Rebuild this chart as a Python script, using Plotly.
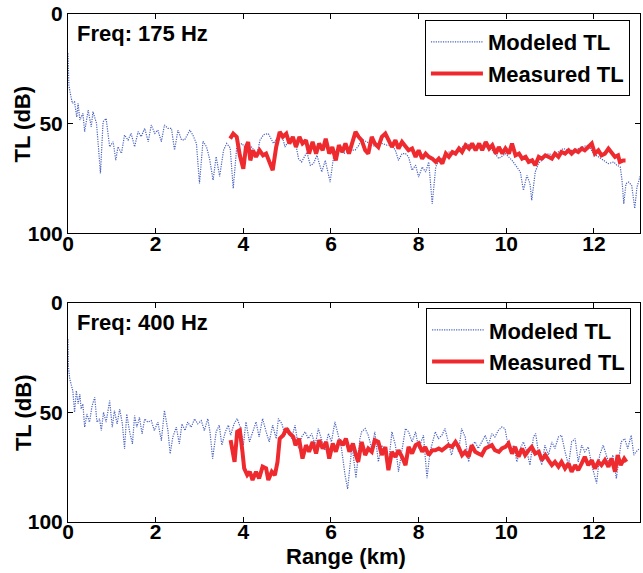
import plotly.graph_objects as go
from plotly.subplots import make_subplots

# ---------------- 175 Hz ----------------
model175_r = [0.0, 0.02, 0.05, 0.1, 0.15, 0.2, 0.23, 0.27, 0.34, 0.38, 0.46, 0.53, 0.57, 0.65, 0.70, 0.74,
              0.8, 0.87, 0.95, 1.03, 1.09, 1.14, 1.22, 1.29, 1.37, 1.44, 1.52, 1.6, 1.67, 1.75, 1.83, 1.9,
              1.98, 2.05, 2.13, 2.2, 2.28, 2.36, 2.43, 2.51, 2.59, 2.66, 2.78, 2.85, 2.93, 3.0, 3.08, 3.16,
              3.23, 3.31, 3.38, 3.46, 3.55, 3.62, 3.70, 3.77, 3.85, 3.97, 4.08, 4.19, 4.31, 4.38, 4.46, 4.57,
              4.69, 4.76, 4.88, 4.95, 5.07, 5.18, 5.26, 5.33, 5.45, 5.53, 5.6, 5.68, 5.79, 5.87, 5.98, 6.06,
              6.17, 6.29, 6.44, 6.55, 6.63, 6.7, 6.82, 6.93, 7.05, 7.16, 7.28, 7.39, 7.47, 7.54, 7.62, 7.7,
              7.77, 7.85, 7.93, 8.0, 8.08, 8.16, 8.23, 8.31, 8.39, 8.46, 8.58, 8.69, 8.84, 8.99, 9.11, 9.22,
              9.38, 9.53, 9.68, 9.83, 9.98, 10.13, 10.24, 10.32, 10.39, 10.47, 10.54, 10.58, 10.66, 10.73, 10.85,
              10.96, 11.07, 11.19, 11.3, 11.42, 11.57, 11.72, 11.87, 11.99, 12.1, 12.22, 12.33, 12.45, 12.52,
              12.6, 12.64, 12.68, 12.73, 12.79, 12.86, 12.93, 12.98, 13.06]
model175_tl = [17.9, 32.4, 36.0, 40.7, 40.0, 47.0, 40.7, 48.3, 45.3, 53.6, 43.8, 51.4, 44.5, 49.8, 62.0, 72.6,
               49.1, 47.6, 60.5, 58.2, 66.6, 60.5, 63.5, 55.2, 57.4, 54.4, 60.5, 53.6, 55.9, 52.1, 58.2, 50.6,
               54.4, 52.9, 58.2, 50.6, 52.1, 52.1, 62.0, 52.9, 57.4, 57.4, 52.9, 55.2, 59.0, 77.2, 58.0, 60.5,
               66.0, 75.7, 65.0, 74.0, 62.0, 59.0, 61.0, 79.5, 60.6, 59.0, 62.0, 60.6, 64.0, 57.5, 55.0, 54.5,
               59.0, 56.7, 55.0, 60.6, 56.7, 57.5, 66.0, 67.4, 63.0, 69.0, 68.2, 64.4, 72.0, 66.7, 76.6, 65.0,
               60.6, 63.6, 62.0, 62.0, 60.0, 57.0, 58.3, 59.8, 60.6, 59.0, 59.8, 59.8, 62.1, 66.7, 63.6, 63.6,
               65.1, 71.2, 68.9, 74.3, 69.7, 72.0, 67.4, 86.5, 69.7, 66.7, 65.1, 62.9, 63.6, 60.6, 59.0, 61.3,
               60.6, 60.6, 62.1, 65.9, 63.6, 66.7, 69.7, 72.0, 80.4, 73.5, 77.3, 84.9, 72.0, 68.2, 65.9,
               63.6, 64.4, 62.9, 61.3, 62.1, 62.1, 60.6, 59.8, 63.6, 65.1, 66.7, 68.2, 67.4, 68.9,
               69.7, 75.8, 86.5, 77.3, 76.6, 78.1, 88.6, 78.9, 73.5]

meas175_r = [3.70, 3.77, 3.85, 3.92, 4.0, 4.06, 4.11, 4.16, 4.22, 4.29, 4.37, 4.45, 4.52, 4.6, 4.67, 4.75,
             4.83, 4.9, 4.98, 5.05, 5.13, 5.2, 5.28, 5.35, 5.43, 5.5, 5.58, 5.66, 5.73, 5.81, 5.88, 5.96,
             6.03, 6.11, 6.18, 6.26, 6.33, 6.41, 6.49, 6.56, 6.63, 6.7, 6.78, 6.85, 6.93, 7.0, 7.08, 7.16,
             7.24, 7.31, 7.39, 7.47, 7.54, 7.62, 7.7, 7.77, 7.85, 7.93, 8.0, 8.08, 8.16, 8.23, 8.31, 8.39,
             8.46, 8.54, 8.62, 8.69, 8.77, 8.84, 8.92, 8.99, 9.07, 9.15, 9.22, 9.3, 9.38, 9.45, 9.53, 9.61,
             9.68, 9.76, 9.83, 9.91, 9.98, 10.06, 10.13, 10.21, 10.29, 10.36, 10.44, 10.51, 10.59, 10.66,
             10.74, 10.81, 10.89, 10.96, 11.04, 11.11, 11.19, 11.26, 11.34, 11.42, 11.49, 11.57, 11.64,
             11.72, 11.79, 11.87, 11.95, 12.02, 12.1, 12.17, 12.25, 12.33, 12.4, 12.48, 12.55, 12.59,
             12.67, 12.72]
meas175_tl = [56.8, 54.5, 56.0, 64.4, 70.5, 60.6, 58.3, 66.7, 62.1, 65.1, 62.1, 64.4, 63.6, 68.2, 71.2, 60.6,
              53.7, 56.0, 54.5, 59.0, 56.0, 60.6, 56.0, 59.0, 57.5, 63.6, 58.3, 63.6, 59.0, 62.1, 56.8, 63.6,
              60.6, 66.7, 59.8, 62.9, 59.0, 63.6, 58.3, 53.7, 56.0, 57.5, 62.1, 63.6, 56.0, 59.0, 60.6, 56.0,
              54.5, 57.5, 60.6, 57.5, 61.3, 58.3, 60.6, 62.1, 61.3, 65.1, 62.1, 65.9, 63.6, 65.1, 65.9, 67.4,
              65.9, 68.2, 63.6, 65.1, 62.9, 63.6, 61.3, 62.9, 59.8, 61.3, 59.0, 62.1, 59.0, 62.1, 58.3, 61.3,
              59.8, 63.6, 60.6, 63.6, 61.3, 63.6, 59.0, 64.4, 63.6, 65.9, 65.1, 67.4, 66.7, 68.9,
              65.1, 65.9, 64.4, 65.1, 65.9, 63.6, 65.1, 62.9, 63.6, 62.1, 63.6, 62.1, 62.9,
              61.3, 62.1, 60.6, 59.0, 63.6, 62.1, 64.4, 63.6, 61.3, 62.9, 65.1, 64.4, 67.4,
              66.7, 66.7]

# ---------------- 400 Hz ----------------
model400_r = [0.0, 0.01, 0.04, 0.08, 0.11, 0.15, 0.19, 0.23, 0.27, 0.3, 0.34, 0.38, 0.43, 0.49, 0.55, 0.61,
              0.66, 0.72, 0.76, 0.81, 0.87, 0.95, 1.01, 1.06, 1.12, 1.18, 1.24, 1.29, 1.34, 1.4, 1.47, 1.52,
              1.57, 1.63, 1.69, 1.75, 1.82, 1.9, 1.97, 2.05, 2.13, 2.2, 2.28, 2.33, 2.39, 2.47, 2.54, 2.6,
              2.67, 2.73, 2.81, 2.89, 2.96, 3.04, 3.11, 3.19, 3.24, 3.3, 3.38, 3.45, 3.51, 3.59, 3.66, 3.71,
              3.79, 3.86, 3.94, 4.0, 4.06, 4.14, 4.21, 4.29, 4.36, 4.44, 4.52, 4.59, 4.67, 4.75, 4.8, 4.88,
              4.95, 5.03, 5.1, 5.18, 5.26, 5.33, 5.41, 5.48, 5.56, 5.64, 5.71, 5.79, 5.86, 5.94, 6.01, 6.09,
              6.17, 6.24, 6.32, 6.38, 6.48, 6.57, 6.66, 6.7, 6.78, 6.85, 6.93, 7.0, 7.08, 7.16, 7.24, 7.31,
              7.39, 7.47, 7.54, 7.62, 7.7, 7.77, 7.85, 7.93, 8.0, 8.11, 8.19, 8.26, 8.38, 8.45, 8.53, 8.6,
              8.68, 8.75, 8.83, 8.91, 8.98, 9.06, 9.14, 9.21, 9.29, 9.36, 9.44, 9.52, 9.59, 9.67, 9.74, 9.82,
              9.9, 9.97, 10.01, 10.09, 10.17, 10.24, 10.32, 10.39, 10.47, 10.54, 10.62, 10.67, 10.73, 10.81,
              10.88, 10.96, 11.04, 11.11, 11.19, 11.26, 11.34, 11.42, 11.49, 11.57, 11.64, 11.72, 11.79,
              11.87, 11.95, 12.02, 12.06, 12.13, 12.21, 12.28, 12.36, 12.43, 12.51, 12.56, 12.62, 12.7,
              12.77, 12.85, 12.91, 12.96, 13.04]
model400_tl = [16.7, 29.5, 34.8, 37.9, 40.2, 50.0, 40.2, 46.2, 41.7, 48.5, 46.2, 56.8, 50.8, 54.5, 47.0, 43.2,
               54.5, 53.0, 58.3, 50.0, 54.5, 44.7, 56.8, 49.2, 55.3, 48.5, 55.3, 66.7, 50.8, 58.3, 64.4, 51.5,
               56.8, 52.3, 59.8, 53.0, 54.5, 53.8, 58.3, 54.5, 62.9, 49.2, 58.3, 68.9, 61.4, 56.8, 64.4, 55.3,
               58.3, 54.5, 56.8, 53.0, 55.3, 53.8, 58.3, 53.0, 59.0, 71.1, 58.9, 55.9, 65.0, 58.9, 55.9, 60.5,
               55.2, 52.9, 57.4, 65.0, 54.4, 63.5, 58.9, 54.4, 61.2, 52.9, 58.9, 63.5, 55.9, 62.0, 52.9, 55.2,
               60.5, 57.4, 62.0, 55.9, 66.5, 61.2, 58.9, 62.0, 59.7, 65.0, 57.4, 62.7, 67.3, 59.7, 63.5, 54.4,
               61.2, 66.5, 78.6, 85.0, 65.0, 80.0, 62.0, 58.9, 57.4, 60.5, 66.5, 58.9, 72.6, 65.0, 69.5, 74.1,
               58.9, 65.0, 77.1, 66.5, 57.4, 58.9, 63.5, 58.9, 66.5, 60.5, 80.0, 68.0, 58.9, 62.0, 60.5, 57.4,
               63.5, 69.5, 63.5, 68.0, 57.4, 61.2, 72.6, 65.0, 63.5, 66.5, 63.5, 60.5, 65.0, 59.7, 61.2, 58.2,
               56.7, 57.4, 62.0, 68.0, 65.0, 72.6, 66.5, 63.5, 68.0, 74.1, 61.2, 59.7, 68.0, 74.1,
               65.0, 69.5, 63.5, 66.5, 61.2, 60.5, 68.0, 74.1, 63.5, 62.0, 72.6, 65.0, 68.0,
               65.8, 74.1, 80.2, 82.4, 69.5, 65.0, 69.5, 74.1, 69.5, 80.2, 72.6, 63.5, 62.0,
               66.5, 60.5, 69.5, 68.0, 66.5]

meas400_r = [3.71, 3.8, 3.86, 3.92, 3.98, 4.02, 4.09, 4.15, 4.21, 4.29, 4.36, 4.44, 4.52, 4.57, 4.65, 4.72,
             4.78, 4.83, 4.91, 4.98, 5.06, 5.14, 5.19, 5.27, 5.35, 5.43, 5.5, 5.58, 5.66, 5.73, 5.81, 5.89,
             5.96, 6.04, 6.11, 6.19, 6.27, 6.34, 6.42, 6.5, 6.57, 6.62, 6.7, 6.78, 6.85, 6.93, 7.0, 7.08,
             7.16, 7.24, 7.31, 7.39, 7.47, 7.54, 7.62, 7.7, 7.77, 7.85, 7.93, 8.0, 8.08, 8.15, 8.23, 8.31,
             8.38, 8.46, 8.53, 8.61, 8.68, 8.76, 8.84, 8.91, 8.99, 9.06, 9.14, 9.21, 9.29, 9.36, 9.44, 9.52,
             9.59, 9.67, 9.74, 9.83, 9.9, 9.98, 10.05, 10.13, 10.2, 10.28, 10.36, 10.43, 10.51, 10.58,
             10.66, 10.74, 10.81, 10.89, 10.96, 11.04, 11.11, 11.19, 11.26, 11.34, 11.42, 11.49, 11.57,
             11.64, 11.72, 11.79, 11.87, 11.95, 12.02, 12.1, 12.17, 12.25, 12.33, 12.4, 12.48, 12.54,
             12.61, 12.69, 12.74]
meas400_tl = [62.7, 72.6, 58.9, 58.2, 68.0, 75.6, 78.6, 77.1, 80.9, 77.1, 80.2, 74.8, 75.6, 80.9, 77.1, 78.6,
              72.6, 62.0, 60.5, 57.4, 59.7, 61.2, 65.0, 62.0, 71.1, 65.0, 68.0, 63.5, 68.8, 62.7, 66.5, 63.5,
              71.1, 64.2, 68.0, 62.7, 65.0, 62.0, 68.0, 64.2, 69.5, 72.6, 63.5, 69.5, 66.5, 68.0, 62.7, 63.5,
              69.5, 65.8, 76.4, 68.0, 70.3, 67.3, 70.3, 74.1, 65.8, 68.8, 65.0, 64.2, 68.0, 65.8, 69.5, 67.3,
              67.3, 66.5, 67.3, 65.8, 65.0, 65.8, 63.5, 65.8, 69.5, 68.0, 70.3, 65.0, 68.0, 68.8, 69.5, 66.5,
              65.8, 65.0, 67.3, 68.0, 66.5, 65.8, 64.2, 68.8, 65.8, 70.3, 66.5, 69.5, 67.3, 65.8,
              68.8, 68.0, 71.8, 69.5, 71.8, 74.1, 72.6, 74.8, 72.6, 75.6, 73.3, 77.1, 74.1,
              76.4, 73.3, 70.3, 74.1, 71.8, 75.6, 72.6, 74.1, 71.8, 74.8, 71.1, 77.1, 69.5,
              74.1, 71.1, 72.6]

panels = [("Freq: 175 Hz", model175_r, model175_tl, meas175_r, meas175_tl),
          ("Freq: 400 Hz", model400_r, model400_tl, meas400_r, meas400_tl)]

x_ticks = [0, 2, 4, 6, 8, 10, 12]
y_ticks = [0, 50, 100]

BLUE = "#4a62c0"
RED = "#ee2a2e"
FONT = "Liberation Sans, Arial, sans-serif"

fig = make_subplots(rows=2, cols=1, vertical_spacing=0.136)

legend_names = ["legend", "legend2"]
for i, (label, mr, mtl, sr, stl) in enumerate(panels):
    row = i + 1
    fig.add_trace(go.Scatter(x=mr, y=mtl, mode="lines", name="Modeled TL",
                             line=dict(color=BLUE, width=1.2, dash="1.2px,1.2px"),
                             legend=legend_names[i]), row=row, col=1)
    fig.add_trace(go.Scatter(x=sr, y=stl, mode="lines", name="Measured TL",
                             line=dict(color=RED, width=4),
                             legend=legend_names[i]), row=row, col=1)

axis_common = dict(showline=True, linecolor="black", linewidth=1, mirror="ticks",
                   ticks="inside", ticklen=5, tickcolor="black", showgrid=False, zeroline=False,
                   automargin=False, ticklabeloverflow="allow",
                   tickfont=dict(family=FONT, size=21, color="black", weight="bold"))

for row in (1, 2):
    fig.update_xaxes(range=[0, 13.05], tickvals=x_ticks, ticklabelstandoff=-9,
                     row=row, col=1, **axis_common)
    fig.update_yaxes(range=[100, 0], tickvals=y_ticks, row=row, col=1, **axis_common)

for i, (label, *_rest) in enumerate(panels):
    sfx = "" if i == 0 else "2"
    fig.add_annotation(text=label, xref="x%s domain" % sfx, yref="y%s domain" % sfx,
                       x=0.012, y=0.975, xanchor="left", yanchor="top", showarrow=False,
                       font=dict(family=FONT, size=22, color="black", weight="bold"))
    # y-axis title of each panel
    fig.add_annotation(text="TL (dB)", xref="paper", yref="y%s domain" % sfx,
                       x=-0.079, y=0.5, xanchor="center", yanchor="middle", textangle=-90,
                       showarrow=False,
                       font=dict(family=FONT, size=22, color="black", weight="bold"))

# x-axis title (bottom panel)
fig.add_annotation(text="Range (km)", xref="paper", yref="paper", x=0.486, y=-0.067,
                   xanchor="center", yanchor="middle", showarrow=False,
                   font=dict(family=FONT, size=22, color="black", weight="bold"))

legend_style = dict(bgcolor="white", bordercolor="black", borderwidth=1,
                    font=dict(family=FONT, size=22, color="black", weight="bold"),
                    xanchor="left", yanchor="top", tracegroupgap=0, itemwidth=52)

fig.update_layout(
    width=643, height=573,
    margin=dict(l=68, r=3, t=14, b=51),
    paper_bgcolor="white", plot_bgcolor="white",
    showlegend=True,
    legend=dict(x=0.624, y=0.988, **legend_style),
    legend2=dict(x=0.626, y=0.421, **legend_style),
)

# remove the default 8px page margin so the figure fills the window exactly
fig.write_html("out.html", config={"displayModeBar": False},
               post_script="document.body.style.margin='0px';")
